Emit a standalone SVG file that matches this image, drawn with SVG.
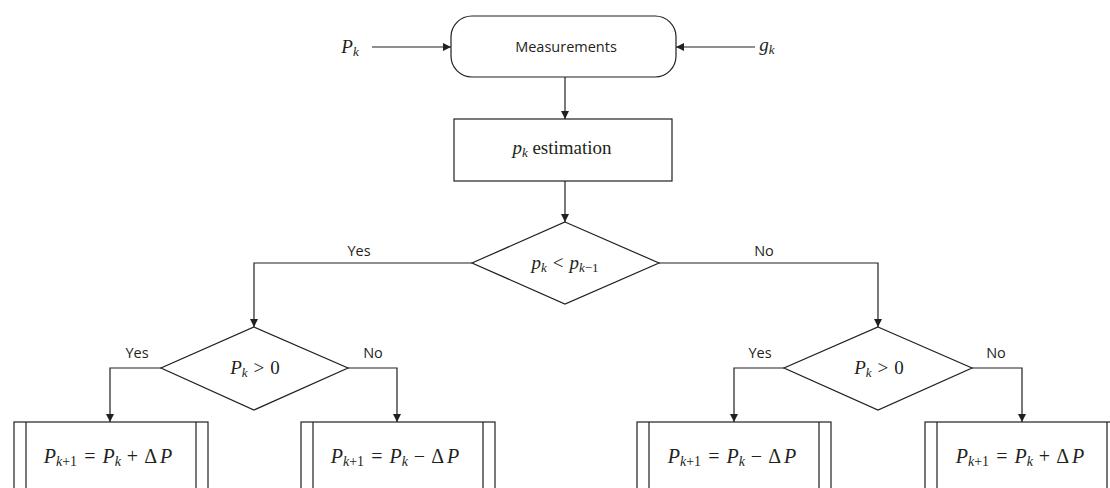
<svg xmlns="http://www.w3.org/2000/svg" width="1110" height="488" viewBox="0 0 1110 488">
<style>
.s{fill:#fff;stroke:#231f20;stroke-width:1.2}
.c{fill:none;stroke:#231f20;stroke-width:1.2}
.t{font-family:"Open Sans","Noto Sans",sans-serif;font-size:14.5px;fill:#231f20;text-anchor:middle}
.m{font-family:"Liberation Serif","DejaVu Serif",serif;font-size:19px;fill:#231f20;text-anchor:middle}
.f{font-size:20px}
.i{font-style:italic}
.sub{font-size:13px}
.f .sub{font-size:14px}
</style>
<defs>
<marker id="a" viewBox="0 0 10 10" refX="10" refY="5" markerWidth="8" markerHeight="8" markerUnits="userSpaceOnUse" orient="auto">
<path d="M0,0 L10,5 L0,10 z" fill="#231f20"/>
</marker>
</defs>
<g id="connectors">
<path class="c" d="M372,47 H451" marker-end="url(#a)"/>
<path class="c" d="M755,47 H676" marker-end="url(#a)"/>
<path class="c" d="M565,77 V119" marker-end="url(#a)"/>
<path class="c" d="M565,181 V222" marker-end="url(#a)"/>
<path class="c" d="M472,263 H254 V327" marker-end="url(#a)"/>
<path class="c" d="M659,263 H878 V327" marker-end="url(#a)"/>
<path class="c" d="M161,368 H110 V422" marker-end="url(#a)"/>
<path class="c" d="M348,368 H397 V422" marker-end="url(#a)"/>
<path class="c" d="M784,368 H734 V422" marker-end="url(#a)"/>
<path class="c" d="M972,368 H1022 V422" marker-end="url(#a)"/>
<text class="t" x="359" y="256">Yes</text>
<text class="t" x="764" y="256">No</text>
<text class="t" x="137" y="358">Yes</text>
<text class="t" x="373" y="358">No</text>
<text class="t" x="760" y="358">Yes</text>
<text class="t" x="996" y="358">No</text>
</g>
<g id="in-P">
<text class="m" x="350" y="53"><tspan class="i">P</tspan><tspan class="i sub" dy="3">k</tspan></text>
</g>
<g id="in-g">
<text class="m" x="767" y="51"><tspan class="i">g</tspan><tspan class="i sub" dy="3">k</tspan></text>
</g>
<g id="measurements">
<rect class="s" x="451" y="16" width="225" height="61" rx="21" ry="21"/>
<text class="t" x="566" y="52">Measurements</text>
</g>
<g id="estimation">
<rect class="s" x="454" y="119" width="218" height="62"/>
<text class="m" x="562" y="154"><tspan class="i">p</tspan><tspan class="i sub" dy="3">k</tspan><tspan dy="-3"> estimation</tspan></text>
</g>
<g id="dec1">
<polygon class="s" points="565,222 659,263 565,304 472,263"/>
<text class="m" x="565" y="269"><tspan class="i">p</tspan><tspan class="i sub" dy="3">k</tspan><tspan dy="-3" dx="6">&lt;</tspan><tspan class="i" dx="6">p</tspan><tspan class="i sub" dy="3">k</tspan><tspan class="sub">−1</tspan></text>
</g>
<g id="dec2">
<polygon class="s" points="254,327 348,368 254,410 161,368"/>
<text class="m" x="255" y="374"><tspan class="i">P</tspan><tspan class="i sub" dy="3">k</tspan><tspan dy="-3" dx="6">&gt;</tspan><tspan dx="6">0</tspan></text>
</g>
<g id="dec3">
<polygon class="s" points="878,327 972,368 878,410 784,368"/>
<text class="m" x="879" y="374"><tspan class="i">P</tspan><tspan class="i sub" dy="3">k</tspan><tspan dy="-3" dx="6">&gt;</tspan><tspan dx="6">0</tspan></text>
</g>
<g id="box1">
<rect class="s" x="14" y="422" width="194" height="80"/>
<path class="c" d="M26,422 V502 M196,422 V502"/>
<text class="m f" x="108" y="463"><tspan class="i">P</tspan><tspan class="i sub" dy="3">k</tspan><tspan class="sub">+1</tspan><tspan dy="-3" dx="7">=</tspan><tspan class="i" dx="7">P</tspan><tspan class="i sub" dy="3">k</tspan><tspan dy="-3" dx="6">+</tspan><tspan dx="6">Δ</tspan><tspan class="i" dx="3">P</tspan></text>
</g>
<g id="box2">
<rect class="s" x="301" y="422" width="194" height="80"/>
<path class="c" d="M313,422 V502 M483,422 V502"/>
<text class="m f" x="395" y="463"><tspan class="i">P</tspan><tspan class="i sub" dy="3">k</tspan><tspan class="sub">+1</tspan><tspan dy="-3" dx="7">=</tspan><tspan class="i" dx="7">P</tspan><tspan class="i sub" dy="3">k</tspan><tspan dy="-3" dx="6">−</tspan><tspan dx="6">Δ</tspan><tspan class="i" dx="3">P</tspan></text>
</g>
<g id="box3">
<rect class="s" x="637" y="422" width="194" height="80"/>
<path class="c" d="M649,422 V502 M819,422 V502"/>
<text class="m f" x="732" y="463"><tspan class="i">P</tspan><tspan class="i sub" dy="3">k</tspan><tspan class="sub">+1</tspan><tspan dy="-3" dx="7">=</tspan><tspan class="i" dx="7">P</tspan><tspan class="i sub" dy="3">k</tspan><tspan dy="-3" dx="6">−</tspan><tspan dx="6">Δ</tspan><tspan class="i" dx="3">P</tspan></text>
</g>
<g id="box4">
<rect class="s" x="925" y="422" width="194" height="80"/>
<path class="c" d="M937,422 V502 M1107,422 V502"/>
<text class="m f" x="1020" y="463"><tspan class="i">P</tspan><tspan class="i sub" dy="3">k</tspan><tspan class="sub">+1</tspan><tspan dy="-3" dx="7">=</tspan><tspan class="i" dx="7">P</tspan><tspan class="i sub" dy="3">k</tspan><tspan dy="-3" dx="6">+</tspan><tspan dx="6">Δ</tspan><tspan class="i" dx="3">P</tspan></text>
</g>
</svg>
